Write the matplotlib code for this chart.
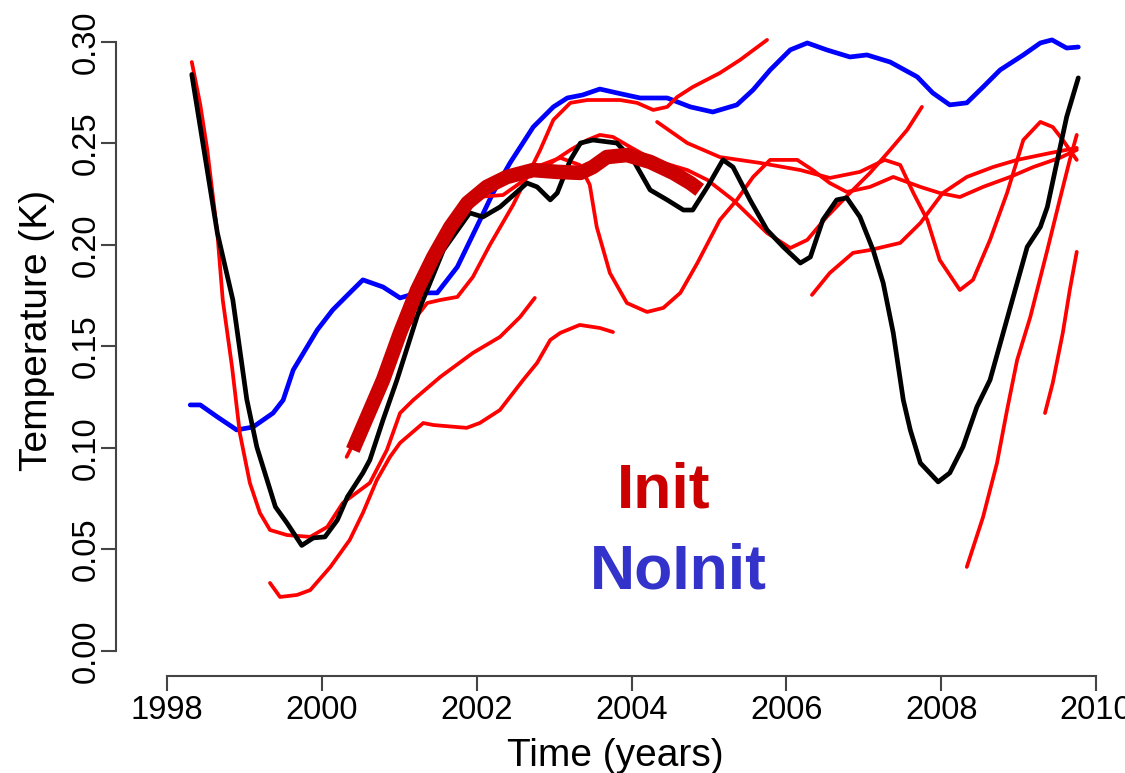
import matplotlib
matplotlib.use("Agg")
import matplotlib.pyplot as plt

plt.rcParams["font.family"] = ["Liberation Sans", "DejaVu Sans"]

# observation-like reference (black) and uninitialised run (blue)
obs_t = [1998.32, 1998.65, 1998.85, 1999.03, 1999.16, 1999.40, 1999.55, 1999.74, 1999.89,
         2000.04, 2000.20, 2000.33, 2000.53, 2000.62, 2000.79, 2000.97, 2001.27, 2001.57,
         2001.91, 2002.08, 2002.30, 2002.65, 2002.78, 2002.95, 2003.04, 2003.21, 2003.34,
         2003.50, 2003.81, 2004.02, 2004.24, 2004.46, 2004.67, 2004.79, 2004.98, 2005.18,
         2005.31, 2005.53, 2005.75, 2005.96, 2006.18, 2006.31, 2006.47, 2006.65, 2006.78,
         2006.95, 2007.12, 2007.25, 2007.38, 2007.51, 2007.60, 2007.73, 2007.96, 2008.11,
         2008.28, 2008.46, 2008.63, 2008.80, 2008.98, 2009.11, 2009.28, 2009.37, 2009.50,
         2009.62, 2009.77]
obs_k = [0.284, 0.206, 0.173, 0.124, 0.1005, 0.071, 0.063, 0.052, 0.0557,
         0.0562, 0.0645, 0.0759, 0.0877, 0.0941, 0.1138, 0.1335, 0.1695, 0.1975,
         0.2158, 0.2138, 0.2187, 0.2305, 0.2286, 0.2222, 0.2256, 0.2419, 0.2502,
         0.2517, 0.2502, 0.2419, 0.2271, 0.2222, 0.2172, 0.2172, 0.2286, 0.2419,
         0.2384, 0.2222, 0.2074, 0.199, 0.1911, 0.1941, 0.2123, 0.2222, 0.2232,
         0.2138, 0.1975, 0.1813, 0.1567, 0.1236, 0.1089, 0.0926, 0.0833, 0.0877,
         0.1005, 0.1202, 0.1335, 0.1567, 0.1813, 0.199, 0.2089, 0.2187, 0.2419,
         0.2631, 0.2823]

noinit_t = [1998.30, 1998.43, 1998.65, 1998.90, 1999.11, 1999.37, 1999.50, 1999.63, 1999.94,
            2000.14, 2000.36, 2000.53, 2000.79, 2001.01, 2001.23, 2001.49, 2001.75, 2002.00,
            2002.21, 2002.43, 2002.73, 2002.99, 2003.17, 2003.37, 2003.59, 2003.81, 2004.11,
            2004.46, 2004.76, 2005.05, 2005.36, 2005.57, 2005.79, 2006.05, 2006.27, 2006.52,
            2006.82, 2007.04, 2007.34, 2007.69, 2007.89, 2008.11, 2008.33, 2008.54, 2008.76,
            2009.06, 2009.28, 2009.43, 2009.62, 2009.77]
noinit_k = [0.1212, 0.1212, 0.1153, 0.1089, 0.1103, 0.1172, 0.1236, 0.1384, 0.1581,
            0.168, 0.1764, 0.1828, 0.1793, 0.1739, 0.1764, 0.1764, 0.1892, 0.2089,
            0.2256, 0.2404, 0.2581, 0.268, 0.2724, 0.2739, 0.2768, 0.2749, 0.2724,
            0.2724, 0.268, 0.2655, 0.269, 0.2764, 0.2862, 0.2961, 0.2995, 0.2961,
            0.2926, 0.2936, 0.2901, 0.2828, 0.2749, 0.269, 0.27, 0.2778, 0.2862,
            0.2936, 0.2995, 0.301, 0.297, 0.2975]

# initialised ensemble mean (thick dark red)
init_t = [2000.40, 2000.79, 2001.01, 2001.23, 2001.44, 2001.66, 2001.88, 2002.13, 2002.39,
          2002.73, 2003.04, 2003.34, 2003.50, 2003.68, 2003.94, 2004.24, 2004.54, 2004.76,
          2004.88]
init_k = [0.099, 0.1335, 0.1567, 0.1778, 0.1941, 0.2089, 0.2207, 0.2286, 0.2335,
          0.2369, 0.236, 0.2355, 0.2384, 0.2433, 0.2443, 0.2409, 0.2355, 0.2305,
          0.2271]

# individual initialised hindcasts (thin red)
h1_t = [1998.32, 1998.43, 1998.52, 1998.65, 1998.72, 1998.84, 1998.94, 1999.07, 1999.20,
        1999.33, 1999.55, 1999.85, 2000.07, 2000.27, 2000.62, 2000.84, 2001.01, 2001.18,
        2001.53, 2001.95, 2002.30, 2002.56, 2002.75]
h1_k = [0.2901, 0.269, 0.2468, 0.2059, 0.1729, 0.1399, 0.1074, 0.0828, 0.068,
        0.0596, 0.0571, 0.0562, 0.0611, 0.0729, 0.0828, 0.099, 0.1172, 0.1236,
        0.135, 0.1468, 0.1547, 0.1645, 0.1739]

h2_t = [1999.33, 1999.46, 1999.68, 1999.85, 2000.11, 2000.36, 2000.53, 2000.71, 2000.88,
        2001.01, 2001.31, 2001.44, 2001.87, 2002.04, 2002.30, 2002.60, 2002.78, 2002.95,
        2003.08, 2003.33, 2003.59, 2003.76]
h2_k = [0.0335, 0.0266, 0.0276, 0.03, 0.0414, 0.0547, 0.068, 0.0842, 0.0956,
        0.1025, 0.1123, 0.1113, 0.1099, 0.1123, 0.1187, 0.1335, 0.1419, 0.1532,
        0.1567, 0.1606, 0.1591, 0.1571]

h3_t = [2000.32, 2000.56, 2000.82, 2001.07, 2001.27, 2001.36, 2001.53, 2001.75, 2001.95,
        2002.17, 2002.47, 2002.82, 2002.99, 2003.21, 2003.43, 2003.85, 2004.07, 2004.28,
        2004.46, 2004.59, 2004.79, 2005.14, 2005.40, 2005.75]
h3_k = [0.0956, 0.1138, 0.136, 0.1581, 0.167, 0.1714, 0.1729, 0.1744, 0.1842,
        0.2, 0.2197, 0.2468, 0.2616, 0.27, 0.2714, 0.2714, 0.27, 0.2665,
        0.268, 0.2729, 0.2778, 0.2847, 0.2911, 0.301]

h4_t = [2002.00, 2002.34, 2002.56, 2002.73, 2003.08, 2003.33, 2003.46, 2003.55, 2003.72,
        2003.94, 2004.20, 2004.41, 2004.63, 2004.85, 2005.14, 2005.36, 2005.57, 2005.79,
        2006.14, 2006.34, 2006.56, 2006.78, 2007.08, 2007.38, 2007.73, 2007.98, 2008.24,
        2008.54, 2008.89, 2009.19, 2009.53, 2009.75]
h4_k = [0.2236, 0.2246, 0.2305, 0.2379, 0.2429, 0.2394, 0.2296, 0.2089, 0.1862,
        0.1714, 0.167, 0.169, 0.1764, 0.1911, 0.2123, 0.2222, 0.2335, 0.2419,
        0.2419, 0.2369, 0.2305, 0.2261, 0.2286, 0.2335, 0.2286, 0.2256, 0.2236,
        0.2286, 0.2335, 0.2384, 0.2429, 0.2468]

h5_t = [2002.82, 2003.21, 2003.43, 2003.59, 2003.76, 2003.98, 2004.28, 2004.72, 2004.98,
        2005.31, 2005.75, 2006.05, 2006.27, 2006.52, 2006.82, 2007.08, 2007.34, 2007.56,
        2007.75]
h5_k = [0.2369, 0.2468, 0.2517, 0.2542, 0.2532, 0.2483, 0.2419, 0.2369, 0.232,
        0.2222, 0.2059, 0.1985, 0.2025, 0.2138, 0.2256, 0.2355, 0.2468, 0.2567,
        0.268]

h6_t = [2004.33, 2004.72, 2005.14, 2005.66, 2006.18, 2006.56, 2006.95, 2007.27, 2007.47,
        2007.64, 2007.82, 2007.98, 2008.24, 2008.41, 2008.63, 2008.85, 2009.06, 2009.28,
        2009.44, 2009.57, 2009.75]
h6_k = [0.2606, 0.2502, 0.2433, 0.2404, 0.2369, 0.233, 0.236, 0.2419, 0.2394,
        0.2256, 0.2123, 0.1926, 0.1778, 0.1828, 0.2025, 0.2256, 0.2517, 0.2606,
        0.2581, 0.2517, 0.2419]

h7_t = [2006.33, 2006.56, 2006.86, 2007.08, 2007.47, 2007.73, 2008.02, 2008.33, 2008.67,
        2008.98, 2009.41, 2009.75]
h7_k = [0.1754, 0.1862, 0.1961, 0.1975, 0.201, 0.2108, 0.2256, 0.2335, 0.2384,
        0.2419, 0.2453, 0.2478]

h8_t = [2008.33, 2008.54, 2008.72, 2008.85, 2008.98, 2009.15, 2009.37, 2009.53, 2009.66,
        2009.75]
h8_k = [0.0414, 0.066, 0.0926, 0.1187, 0.1433, 0.1645, 0.1975, 0.2222, 0.2419,
        0.2542]

h9_t = [2009.34, 2009.44, 2009.57, 2009.66, 2009.75]
h9_k = [0.1172, 0.132, 0.1567, 0.1778, 0.1966]

hindcasts = [(h1_t, h1_k), (h2_t, h2_k), (h3_t, h3_k), (h4_t, h4_k), (h5_t, h5_k),
             (h6_t, h6_k), (h7_t, h7_k), (h8_t, h8_k), (h9_t, h9_k)]

x_ticks = [1998, 2000, 2002, 2004, 2006, 2008, 2010]
y_ticks = [0.00, 0.05, 0.10, 0.15, 0.20, 0.25, 0.30]
y_labels = ["0.00", "0.05", "0.10", "0.15", "0.20", "0.25", "0.30"]

fig = plt.figure(figsize=(11.25, 7.73), dpi=100)
ax = fig.add_axes([0.1031, 0.1255, 0.8836, 0.8486])

thin = dict(solid_capstyle="round", solid_joinstyle="round")
ax.plot(noinit_t, noinit_k, color="#0000ff", lw=3.4, zorder=2, **thin)
for t, k in hindcasts:
    ax.plot(t, k, color="#ff0000", lw=2.7, zorder=3, **thin)
ax.plot(obs_t, obs_k, color="black", lw=3.4, zorder=4, **thin)
ax.plot(init_t, init_k, color="#cc0000", lw=10.5, solid_capstyle="butt",
        solid_joinstyle="round", zorder=5)

ax.text(2004.42, 0.0709, "Init", color="#cc0000", fontsize=45, fontweight="bold",
        ha="center", va="baseline")
ax.text(2004.60, 0.0310, "NoInit", color="#3333cc", fontsize=45, fontweight="bold",
        ha="center", va="baseline")

ax.set_xlim(1997.341, 2010.180)
ax.set_ylim(-0.01232, 0.3108)

for side in ["top", "right"]:
    ax.spines[side].set_visible(False)
for side in ["left", "bottom"]:
    ax.spines[side].set_color("#444444")
    ax.spines[side].set_linewidth(1.5)
ax.spines["left"].set_bounds(0.0, 0.30)
ax.spines["bottom"].set_bounds(1998, 2010)

ax.set_xticks(x_ticks)
ax.set_xticklabels([str(v) for v in x_ticks])
ax.set_yticks(y_ticks)
ax.set_yticklabels(y_labels, rotation=90, va="center")
ax.tick_params(axis="both", direction="out", length=10.5, width=1.5, color="#444444",
               labelsize=23.5)
ax.tick_params(axis="x", pad=3.5)
ax.tick_params(axis="y", pad=-0.5)

fig.text(615 / 1125, 1 - 766 / 773, "Time (years)", fontsize=28, ha="center", va="baseline")
fig.text(47 / 1125, 1 - 330 / 773, "Temperature (K)", fontsize=28, rotation=90,
         rotation_mode="anchor", ha="center", va="baseline")

fig.savefig("out.png", dpi=100)
